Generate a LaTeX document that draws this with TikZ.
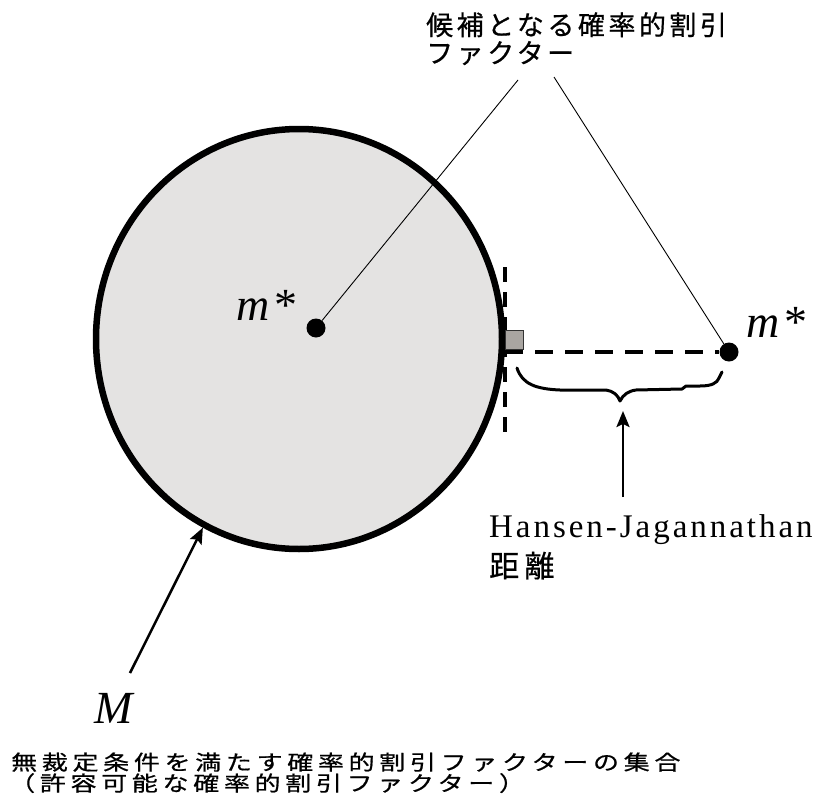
\documentclass[tikz,border=0pt]{standalone}
\usepackage{fontspec}
\setmainfont{Liberation Serif}
\newfontfamily\jp[FakeBold=0.6]{Noto Sans CJK JP}
\usetikzlibrary{shapes.geometric,arrows.meta}
\definecolor{circfill}{RGB}{228,227,226}
\definecolor{sqfill}{RGB}{169,165,161}
\tikzset{
  lbl/.style={inner sep=0pt, anchor=base west},
  dot/.style={circle, fill=black, inner sep=0pt, minimum size=19pt},
  thin line/.style={line width=0.9pt},
  pointer/.style={line width=2.5pt, -{Stealth[length=16pt,width=13pt,inset=3pt]}},
  dashline/.style={line width=4pt, dash pattern=on 18pt off 12pt},
}
\begin{document}
\begin{tikzpicture}[x=1pt,y=-1pt]
\useasboundingbox (0,0) rectangle (828,806);
% set M
\node[ellipse, draw=black, fill=circfill, line width=6.5pt, minimum width=406pt, minimum height=420pt, inner sep=0pt] (set) at (299,339) {};
% dashed lines
\draw[line width=4pt, dash pattern=on 15pt off 10pt] (505,267) -- (505,435);
\node[dot] (c) at (316,328) {};
\node[dot] (d) at (729,352) {};
\coordinate (h0) at (505,352);
\draw[dashline] (h0) -- (d.west);
\node[draw=black!80, fill=sqfill, line width=0.8pt, minimum width=18pt, minimum height=19pt, inner sep=0pt, anchor=south west] (sq) at (505,350) {};
% labels m*
\node[lbl] (mc) at (236,320) {\fontsize{46}{46}\selectfont\textit{m}\hspace{5pt}*};
\node[lbl] (mr) at (746,337) {\fontsize{46}{46}\selectfont\textit{m}\hspace{5pt}*};
% top text
\node[lbl] (t1) at (426,35) {\jp\fontsize{27}{27}\selectfont\addfontfeatures{LetterSpace=13}候補となる確率的割引};
\node[lbl] (t2) at (426,63) {\jp\fontsize{27}{27}\selectfont\addfontfeatures{LetterSpace=13}ファクター};
\coordinate (s1) at (518,80);
\coordinate (s2) at (554,77);
\draw[thin line] (s1) -- (c);
\draw[thin line] (s2) -- (d);
% brace
\draw[line width=3pt, line cap=round, line join=round]
  (517,368) .. controls (522,384) and (536,389) .. (560,390)
  -- (606,390) .. controls (613,391) and (618,395) .. (620,401)
  .. controls (623,395) and (628,391) .. (636,390)
  -- (682,389) -- (686,386) -- (700,386)
  .. controls (712,386) and (717,383) .. (719,378) -- (722,372);
% HJ distance
\node[lbl] (hj) at (489,537) {\fontsize{33}{33}\selectfont\addfontfeatures{LetterSpace=9}Hansen-Jagannathan};
\node[lbl] (kyori) at (489,577) {\jp\fontsize{30}{30}\selectfont\addfontfeatures{LetterSpace=18}距離};
\coordinate (a0) at (623,497);
\coordinate (a1) at (623,411);
\draw[pointer] (a0) -- (a1);
% M label
\node[lbl] (Mlab) at (94,723) {\fontsize{46}{46}\selectfont\textit{M}};
\coordinate (m0) at (130,673);
\draw[pointer] (m0) -- (set.243);
% bottom text
\node[lbl] (b1) at (11,770) {\scalebox{1}[0.8]{\jp\fontsize{26}{26}\selectfont\addfontfeatures{LetterSpace=18}無裁定条件を満たす確率的割引ファクターの集合}};
\node[lbl] (b2) at (9,791) {\scalebox{1}[0.8]{\jp\fontsize{26}{26}\selectfont\addfontfeatures{LetterSpace=18}（許容可能な確率的割引ファクター）}};
\end{tikzpicture}
\end{document}
